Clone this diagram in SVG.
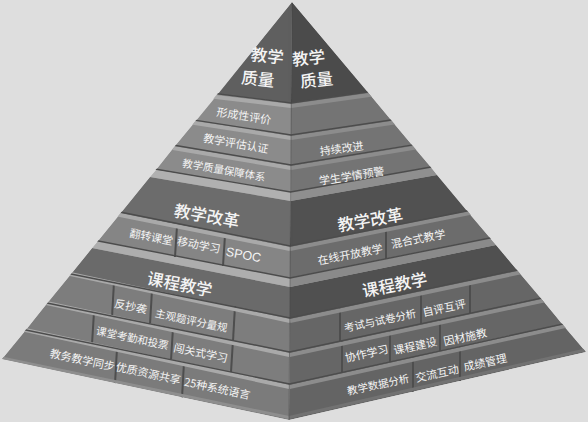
<svg xmlns="http://www.w3.org/2000/svg" width="588" height="422" viewBox="0 0 588 422">
<defs>
<clipPath id="pyr"><polygon points="292,2 2,359 289,420 586,352"/></clipPath>
<style>
.t{font-family:"Noto Sans CJK SC","Noto Sans",sans-serif;fill:#f4f4f4;text-anchor:middle;dominant-baseline:central;font-weight:400}
.s{font-size:11px}
.n{font-size:10.5px}
.h{font-size:16.5px;font-weight:500}
.q{font-size:16.5px;font-weight:500}
.dl{fill:none;stroke:#4c4c4c;stroke-width:1.4}
.ll{fill:none;stroke:#a9a9a9;stroke-width:4}
.lr{fill:none;stroke:#8c8c8c;stroke-width:4}
.sep{stroke:#4e4e4e;stroke-width:2}
</style>
</defs>
<rect width="588" height="422" fill="#dedede"/>
<g id="pyramid" clip-path="url(#pyr)">
<g id="left-face">
<polygon points="292,2 218,94 291,103" fill="#5f5f5f"/>
<polygon points="218,94 291,103 291,135 195,122" fill="#8b8b8b"/>
<polygon points="195,122 291,135 291,165 174,147" fill="#8b8b8b"/>
<polygon points="174,147 291,165 290.5,192 156,170" fill="#8b8b8b"/>
<polygon points="156,170 290.5,192 290.5,201 150,177" fill="#b0b0b0"/>
<polygon points="150,177 290.5,201 290,246 120,214" fill="#6c6c6c"/>
<polygon points="120,214 290,246 290,278 98,241" fill="#858585"/>
<polygon points="98,241 290,278 290,287 92,248" fill="#adadad"/>
<polygon points="92,248 290,287 290,318 71,274" fill="#6a6a6a"/>
<polygon points="71,274 290,318 289.5,352 47,303" fill="#7d7d7d"/>
<polygon points="47,303 289.5,352 289.5,384 26,330" fill="#7d7d7d"/>
<polygon points="26,330 289.5,384 289,420 2,359" fill="#7b7b7b"/>
</g>
<g id="right-face">
<polygon points="292,2 291,103 368,92" fill="#4b4b4b"/>
<polygon points="291,103 368,92 391,120 291,135" fill="#747474"/>
<polygon points="291,135 391,120 412,145 291,165" fill="#747474"/>
<polygon points="291,165 412,145 431,167 290.5,192" fill="#747474"/>
<polygon points="290.5,192 431,167 437,175 290.5,201" fill="#8f8f8f"/>
<polygon points="290.5,201 437,175 467,211 290,246" fill="#515151"/>
<polygon points="290,246 467,211 490,238 290,278" fill="#6c6c6c"/>
<polygon points="290,278 490,238 496,245 290,287" fill="#8a8a8a"/>
<polygon points="290,287 496,245 517,270 290,318" fill="#505050"/>
<polygon points="290,318 517,270 541,298 289.5,352" fill="#666666"/>
<polygon points="289.5,352 541,298 562,324 289.5,384" fill="#666666"/>
<polygon points="289.5,384 562,324 586,352 289,420" fill="#646464"/>
</g>
<g id="separators">
<line class="sep" x1="177" y1="226" x2="175" y2="257"/>
<line class="sep" x1="225" y1="235" x2="223" y2="266"/>
<line class="sep" x1="386" y1="227" x2="386" y2="259"/>
<line class="sep" x1="114" y1="282" x2="112" y2="317"/>
<line class="sep" x1="152" y1="290" x2="150" y2="324"/>
<line class="sep" x1="235" y1="306" x2="233" y2="341"/>
<line class="sep" x1="94" y1="312" x2="92" y2="344"/>
<line class="sep" x1="173" y1="328" x2="171" y2="360"/>
<line class="sep" x1="233" y1="340" x2="231" y2="372"/>
<line class="sep" x1="117" y1="348" x2="115" y2="384"/>
<line class="sep" x1="184" y1="362" x2="182" y2="398"/>
<line class="sep" x1="340" y1="307" x2="340" y2="341"/>
<line class="sep" x1="421" y1="291" x2="421" y2="324"/>
<line class="sep" x1="470" y1="280" x2="470" y2="313"/>
<line class="sep" x1="342" y1="341" x2="342" y2="373"/>
<line class="sep" x1="390" y1="330" x2="390" y2="362"/>
<line class="sep" x1="440" y1="320" x2="440" y2="351"/>
<line class="sep" x1="413" y1="357" x2="413" y2="392"/>
<line class="sep" x1="460" y1="346" x2="460" y2="381"/>
</g>
<g id="ledges">
<polyline class="ll" points="205,95.7 291,106"/>
<polyline class="lr" points="291,106 380,93.5"/>
<polyline class="ll" points="185,121.5 291,138"/>
<polyline class="lr" points="291,138 401,121.5"/>
<polyline class="ll" points="164,146.5 291,168"/>
<polyline class="lr" points="291,168 422,146.5"/>
<polyline class="ll" points="110,213 290,249"/>
<polyline class="lr" points="290,249 477,211.5"/>
<polyline class="ll" points="61,272 290,321"/>
<polyline class="lr" points="290,321 527,271"/>
<polyline class="ll" points="37,301 289.5,355"/>
<polyline class="lr" points="289.5,355 551,299"/>
<polyline class="ll" points="16,328 289.5,387"/>
<polyline class="lr" points="289.5,387 572,324.5"/>
<polyline class="dl" points="205,92.3 291,103 380,90.3"/>
<polyline class="dl" points="185,118.6 291,135 401,118.5"/>
<polyline class="dl" points="164,143.5 291,165 422,143.4"/>
<polyline class="dl" points="146,167.5 290.5,192 441,165.3"/>
<polyline class="dl" points="110,210 290,246 477,209"/>
<polyline class="dl" points="88,239 290,278 500,236"/>
<polyline class="dl" points="61,272 290,318 527,268"/>
<polyline class="dl" points="37,301 289.5,352 551,296"/>
<polyline class="dl" points="16,328 289.5,384 572,322"/>
<polyline fill="none" stroke="#8e8e8e" stroke-width="3" points="-8,356 289,417.5"/>
<polyline fill="none" stroke="#727272" stroke-width="3" points="289,417.5 596,347.5"/>
<line x1="292" y1="2" x2="289" y2="420" stroke="#3f3f3f" stroke-width="0.8" opacity="0.5"/>
</g>
</g>
<g id="labels">
<text class="t q" transform="translate(267.5,55) rotate(6)">教学</text>
<text class="t q" transform="translate(258,78) rotate(6)">质量</text>
<text class="t q" transform="translate(308.5,57) rotate(-6)">教学</text>
<text class="t q" transform="translate(316.5,79) rotate(-6)">质量</text>
<text class="t s" transform="translate(244,115) rotate(9)">形成性评价</text>
<text class="t s" transform="translate(236,142.5) rotate(10)">教学评估认证</text>
<text class="t n" transform="translate(224,169.5) rotate(10)">教学质量保障体系</text>
<text class="t s" transform="translate(341.5,147.5) rotate(-8)">持续改进</text>
<text class="t s" transform="translate(351.5,175) rotate(-9)">学生学情预警</text>
<text class="t h" transform="translate(207,215) rotate(10)">教学改革</text>
<text class="t h" transform="translate(370,219) rotate(-10)">教学改革</text>
<text class="t s" transform="translate(151.5,236) rotate(11)">翻转课堂</text>
<text class="t s" transform="translate(199,244) rotate(11)">移动学习</text>
<text class="t" style="font-family:'Liberation Sans',Arial,sans-serif;font-size:12.5px" transform="translate(243.5,255) rotate(11)">SPOC</text>
<text class="t s" transform="translate(350,253.5) rotate(-11)">在线开放教学</text>
<text class="t s" transform="translate(418,238) rotate(-11)">混合式教学</text>
<text class="t h" transform="translate(180,283.5) rotate(11)">课程教学</text>
<text class="t h" transform="translate(394.5,284) rotate(-11)">课程教学</text>
<text class="t s" transform="translate(131,305.5) rotate(12)">反抄袭</text>
<text class="t n" transform="translate(191.5,320) rotate(12)">主观题评分量规</text>
<text class="t n" transform="translate(132.5,337.5) rotate(12)">课堂考勤和投票</text>
<text class="t s" transform="translate(201,352) rotate(12)">闯关式学习</text>
<text class="t s" transform="translate(82.5,359) rotate(12)">教务教学同步</text>
<text class="t s" transform="translate(148.5,372.5) rotate(12)">优质资源共享</text>
<text class="t s" transform="translate(217.5,387.5) rotate(12)">25种系统语言</text>
<text class="t n" transform="translate(380,320) rotate(-12)">考试与试卷分析</text>
<text class="t s" transform="translate(444,307) rotate(-12)">自评互评</text>
<text class="t s" transform="translate(366.5,352.5) rotate(-12)">协作学习</text>
<text class="t s" transform="translate(415,345) rotate(-12)">课程建设</text>
<text class="t s" transform="translate(465,336) rotate(-12)">因材施教</text>
<text class="t n" transform="translate(378,384) rotate(-12)">教学数据分析</text>
<text class="t s" transform="translate(437,372.5) rotate(-12)">交流互动</text>
<text class="t s" transform="translate(485,361.5) rotate(-12)">成绩管理</text>
</g>
</svg>
